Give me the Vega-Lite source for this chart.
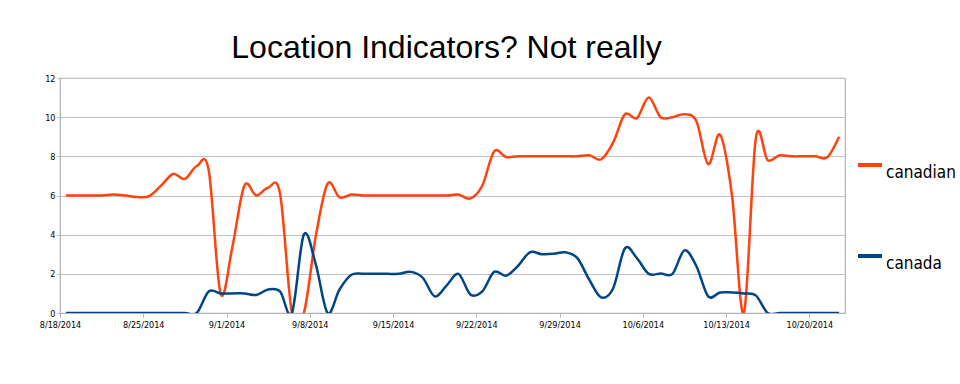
{
  "$schema": "https://vega.github.io/schema/vega-lite/v6.json",
  "width": 785,
  "height": 235,
  "autosize": {"type": "none"},
  "padding": {"left": 60, "top": 78, "right": 115, "bottom": 71},
  "background": "white",
  "title": {
    "text": "Location Indicators? Not really",
    "font": "Liberation Sans",
    "fontSize": 32,
    "fontWeight": "normal",
    "color": "#000000",
    "anchor": "middle",
    "baseline": "alphabetic",
    "offset": 18,
    "dy": 34,
    "dx": -6
  },
  "data": {
    "values": [
      {"date": "2014-08-18", "term": "canadian", "value": 6},
      {"date": "2014-08-19", "term": "canadian", "value": 6},
      {"date": "2014-08-20", "term": "canadian", "value": 6},
      {"date": "2014-08-21", "term": "canadian", "value": 6},
      {"date": "2014-08-22", "term": "canadian", "value": 6.05},
      {"date": "2014-08-23", "term": "canadian", "value": 6},
      {"date": "2014-08-24", "term": "canadian", "value": 5.92},
      {"date": "2014-08-25", "term": "canadian", "value": 5.97},
      {"date": "2014-08-26", "term": "canadian", "value": 6.5},
      {"date": "2014-08-27", "term": "canadian", "value": 7.1},
      {"date": "2014-08-28", "term": "canadian", "value": 6.85},
      {"date": "2014-08-29", "term": "canadian", "value": 7.5},
      {"date": "2014-08-30", "term": "canadian", "value": 7.3},
      {"date": "2014-08-31", "term": "canadian", "value": 1.0},
      {"date": "2014-09-01", "term": "canadian", "value": 3.4},
      {"date": "2014-09-02", "term": "canadian", "value": 6.5},
      {"date": "2014-09-03", "term": "canadian", "value": 6.0},
      {"date": "2014-09-04", "term": "canadian", "value": 6.4},
      {"date": "2014-09-05", "term": "canadian", "value": 6.1},
      {"date": "2014-09-06", "term": "canadian", "value": 0},
      {"date": "2014-09-07", "term": "canadian", "value": 0},
      {"date": "2014-09-08", "term": "canadian", "value": 3.9},
      {"date": "2014-09-09", "term": "canadian", "value": 6.6},
      {"date": "2014-09-10", "term": "canadian", "value": 5.9},
      {"date": "2014-09-11", "term": "canadian", "value": 6.05},
      {"date": "2014-09-12", "term": "canadian", "value": 6},
      {"date": "2014-09-13", "term": "canadian", "value": 6},
      {"date": "2014-09-14", "term": "canadian", "value": 6},
      {"date": "2014-09-15", "term": "canadian", "value": 6},
      {"date": "2014-09-16", "term": "canadian", "value": 6},
      {"date": "2014-09-17", "term": "canadian", "value": 6},
      {"date": "2014-09-18", "term": "canadian", "value": 6},
      {"date": "2014-09-19", "term": "canadian", "value": 6},
      {"date": "2014-09-20", "term": "canadian", "value": 6.05},
      {"date": "2014-09-21", "term": "canadian", "value": 5.85},
      {"date": "2014-09-22", "term": "canadian", "value": 6.5},
      {"date": "2014-09-23", "term": "canadian", "value": 8.25},
      {"date": "2014-09-24", "term": "canadian", "value": 7.97},
      {"date": "2014-09-25", "term": "canadian", "value": 8},
      {"date": "2014-09-26", "term": "canadian", "value": 8},
      {"date": "2014-09-27", "term": "canadian", "value": 8},
      {"date": "2014-09-28", "term": "canadian", "value": 8},
      {"date": "2014-09-29", "term": "canadian", "value": 8},
      {"date": "2014-09-30", "term": "canadian", "value": 8},
      {"date": "2014-10-01", "term": "canadian", "value": 8.05},
      {"date": "2014-10-02", "term": "canadian", "value": 7.85},
      {"date": "2014-10-03", "term": "canadian", "value": 8.7},
      {"date": "2014-10-04", "term": "canadian", "value": 10.15},
      {"date": "2014-10-05", "term": "canadian", "value": 9.95},
      {"date": "2014-10-06", "term": "canadian", "value": 11.0},
      {"date": "2014-10-07", "term": "canadian", "value": 10.0},
      {"date": "2014-10-08", "term": "canadian", "value": 10.0},
      {"date": "2014-10-09", "term": "canadian", "value": 10.15},
      {"date": "2014-10-10", "term": "canadian", "value": 9.8},
      {"date": "2014-10-11", "term": "canadian", "value": 7.6},
      {"date": "2014-10-12", "term": "canadian", "value": 9.1},
      {"date": "2014-10-13", "term": "canadian", "value": 6.0},
      {"date": "2014-10-14", "term": "canadian", "value": 0},
      {"date": "2014-10-15", "term": "canadian", "value": 8.9},
      {"date": "2014-10-16", "term": "canadian", "value": 7.8},
      {"date": "2014-10-17", "term": "canadian", "value": 8.05},
      {"date": "2014-10-18", "term": "canadian", "value": 8},
      {"date": "2014-10-19", "term": "canadian", "value": 8},
      {"date": "2014-10-20", "term": "canadian", "value": 8},
      {"date": "2014-10-21", "term": "canadian", "value": 7.95},
      {"date": "2014-10-22", "term": "canadian", "value": 9.0},
      {"date": "2014-08-18", "term": "canada", "value": 0},
      {"date": "2014-08-19", "term": "canada", "value": 0},
      {"date": "2014-08-20", "term": "canada", "value": 0},
      {"date": "2014-08-21", "term": "canada", "value": 0},
      {"date": "2014-08-22", "term": "canada", "value": 0},
      {"date": "2014-08-23", "term": "canada", "value": 0},
      {"date": "2014-08-24", "term": "canada", "value": 0},
      {"date": "2014-08-25", "term": "canada", "value": 0},
      {"date": "2014-08-26", "term": "canada", "value": 0},
      {"date": "2014-08-27", "term": "canada", "value": 0},
      {"date": "2014-08-28", "term": "canada", "value": 0},
      {"date": "2014-08-29", "term": "canada", "value": 0},
      {"date": "2014-08-30", "term": "canada", "value": 1.1},
      {"date": "2014-08-31", "term": "canada", "value": 1.0},
      {"date": "2014-09-01", "term": "canada", "value": 1.0},
      {"date": "2014-09-02", "term": "canada", "value": 1.0},
      {"date": "2014-09-03", "term": "canada", "value": 0.92},
      {"date": "2014-09-04", "term": "canada", "value": 1.2},
      {"date": "2014-09-05", "term": "canada", "value": 1.1},
      {"date": "2014-09-06", "term": "canada", "value": 0},
      {"date": "2014-09-07", "term": "canada", "value": 4},
      {"date": "2014-09-08", "term": "canada", "value": 2.5},
      {"date": "2014-09-09", "term": "canada", "value": 0},
      {"date": "2014-09-10", "term": "canada", "value": 1.2},
      {"date": "2014-09-11", "term": "canada", "value": 1.95},
      {"date": "2014-09-12", "term": "canada", "value": 2},
      {"date": "2014-09-13", "term": "canada", "value": 2},
      {"date": "2014-09-14", "term": "canada", "value": 2},
      {"date": "2014-09-15", "term": "canada", "value": 2},
      {"date": "2014-09-16", "term": "canada", "value": 2.1},
      {"date": "2014-09-17", "term": "canada", "value": 1.8},
      {"date": "2014-09-18", "term": "canada", "value": 0.85},
      {"date": "2014-09-19", "term": "canada", "value": 1.4},
      {"date": "2014-09-20", "term": "canada", "value": 2.0},
      {"date": "2014-09-21", "term": "canada", "value": 0.95},
      {"date": "2014-09-22", "term": "canada", "value": 1.1},
      {"date": "2014-09-23", "term": "canada", "value": 2.1},
      {"date": "2014-09-24", "term": "canada", "value": 1.9},
      {"date": "2014-09-25", "term": "canada", "value": 2.4},
      {"date": "2014-09-26", "term": "canada", "value": 3.1},
      {"date": "2014-09-27", "term": "canada", "value": 3.0},
      {"date": "2014-09-28", "term": "canada", "value": 3.02},
      {"date": "2014-09-29", "term": "canada", "value": 3.1},
      {"date": "2014-09-30", "term": "canada", "value": 2.8},
      {"date": "2014-10-01", "term": "canada", "value": 1.7},
      {"date": "2014-10-02", "term": "canada", "value": 0.8},
      {"date": "2014-10-03", "term": "canada", "value": 1.25},
      {"date": "2014-10-04", "term": "canada", "value": 3.3},
      {"date": "2014-10-05", "term": "canada", "value": 2.8},
      {"date": "2014-10-06", "term": "canada", "value": 2.0},
      {"date": "2014-10-07", "term": "canada", "value": 2.02},
      {"date": "2014-10-08", "term": "canada", "value": 2.0},
      {"date": "2014-10-09", "term": "canada", "value": 3.2},
      {"date": "2014-10-10", "term": "canada", "value": 2.4},
      {"date": "2014-10-11", "term": "canada", "value": 0.85},
      {"date": "2014-10-12", "term": "canada", "value": 1.05},
      {"date": "2014-10-13", "term": "canada", "value": 1.05},
      {"date": "2014-10-14", "term": "canada", "value": 1.0},
      {"date": "2014-10-15", "term": "canada", "value": 0.9},
      {"date": "2014-10-16", "term": "canada", "value": 0},
      {"date": "2014-10-17", "term": "canada", "value": 0},
      {"date": "2014-10-18", "term": "canada", "value": 0},
      {"date": "2014-10-19", "term": "canada", "value": 0},
      {"date": "2014-10-20", "term": "canada", "value": 0},
      {"date": "2014-10-21", "term": "canada", "value": 0},
      {"date": "2014-10-22", "term": "canada", "value": 0}
    ]
  },
  "mark": {"type": "line", "interpolate": "cardinal", "tension": 0, "strokeWidth": 2.5, "clip": true},
  "encoding": {
    "x": {
      "field": "date",
      "type": "temporal",
      "scale": {
        "type": "utc",
        "domain": [
          {"year": 2014, "month": 8, "date": 17, "hours": 12, "utc": true},
          {"year": 2014, "month": 10, "date": 22, "hours": 12, "utc": true}
        ]
      },
      "axis": {
        "title": null,
        "format": "%-m/%-d/%Y",
        "values": [
          {"year": 2014, "month": 8, "date": 18, "utc": true},
          {"year": 2014, "month": 8, "date": 25, "utc": true},
          {"year": 2014, "month": 9, "date": 1, "utc": true},
          {"year": 2014, "month": 9, "date": 8, "utc": true},
          {"year": 2014, "month": 9, "date": 15, "utc": true},
          {"year": 2014, "month": 9, "date": 22, "utc": true},
          {"year": 2014, "month": 9, "date": 29, "utc": true},
          {"year": 2014, "month": 10, "date": 6, "utc": true},
          {"year": 2014, "month": 10, "date": 13, "utc": true},
          {"year": 2014, "month": 10, "date": 20, "utc": true}
        ],
        "tickOffset": -5.95,
        "tickSize": 4,
        "labelPadding": 3,
        "grid": false,
        "labelFlush": false,
        "labelOverlap": false,
        "labelFont": "DejaVu Sans Condensed, Liberation Sans, sans-serif",
        "labelFontSize": 9
      }
    },
    "y": {
      "field": "value",
      "type": "quantitative",
      "scale": {"domain": [0, 12]},
      "axis": {
        "title": null,
        "values": [0, 2, 4, 6, 8, 10, 12],
        "tickSize": 3,
        "labelPadding": 2,
        "grid": true,
        "labelFont": "DejaVu Sans Condensed, Liberation Sans, sans-serif",
        "labelFontSize": 9
      }
    },
    "color": {
      "field": "term",
      "type": "nominal",
      "scale": {"domain": ["canadian", "canada"], "range": ["#ff420e", "#004586"]},
      "legend": {
        "title": null,
        "orient": "none",
        "legendX": 796,
        "legendY": 73,
        "symbolType": "stroke",
        "symbolSize": 576,
        "symbolStrokeWidth": 4,
        "labelFont": "DejaVu Sans Condensed, Liberation Sans, sans-serif",
        "labelFontSize": 17,
        "labelBaseline": "top",
        "labelColor": "#000000",
        "labelOffset": 2,
        "labelLimit": 200,
        "rowPadding": 61
      }
    }
  },
  "config": {
    "view": {"stroke": "#b3b3b3", "strokeWidth": 1.2},
    "axis": {
      "domainColor": "#b3b3b3",
      "tickColor": "#b3b3b3",
      "gridColor": "#c0c0c0",
      "gridWidth": 1.2,
      "labelColor": "#000000"
    }
  }
}
